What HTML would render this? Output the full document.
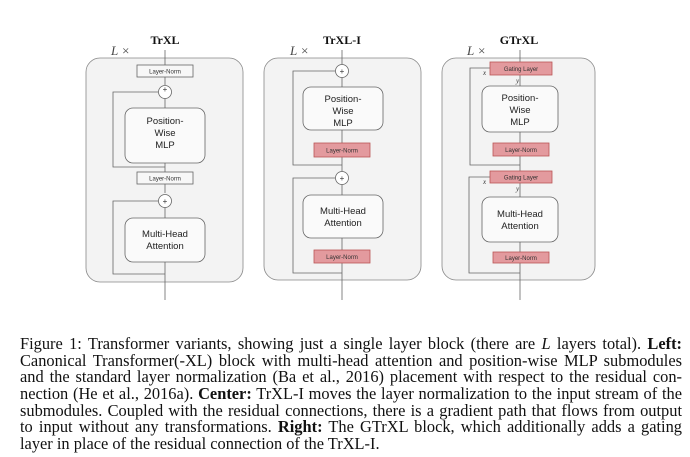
<!DOCTYPE html>
<html><head><meta charset="utf-8"><style>
body{margin:0;width:690px;height:457px;background:#fff;overflow:hidden;position:relative}
svg{position:absolute;left:0;top:0}
.cap{position:absolute;left:20px;width:662px;top:336px;font-family:"Liberation Serif",serif;font-size:16.4px;color:#111}
.cap div{height:16.7px;line-height:16.7px;text-align:justify;text-align-last:justify;white-space:nowrap}
.cap div.last{text-align-last:left}
</style></head><body>
<svg width="690" height="330" viewBox="0 0 690 330" font-family="Liberation Sans,sans-serif">
<g fill="none" stroke="#666" stroke-width="0.8">
<rect x="86" y="58" width="157" height="224" rx="14" fill="#f3f3f3" stroke="#888"/>
<rect x="264" y="58" width="157" height="222" rx="14" fill="#f3f3f3" stroke="#888"/>
<rect x="442" y="58" width="153" height="222" rx="14" fill="#f3f3f3" stroke="#888"/>
</g>
<g font-family="Liberation Serif,serif" font-weight="bold" font-size="12" text-anchor="middle" fill="#111">
<text x="165" y="44">TrXL</text><text x="342" y="44">TrXL-I</text><text x="519" y="44">GTrXL</text></g>
<g font-family="Liberation Serif,serif" font-style="italic" font-size="13" fill="#444">
<text x="111" y="55">L ×</text><text x="290" y="55">L ×</text><text x="467" y="55">L ×</text></g>

<g stroke="#666" stroke-width="0.8" fill="none">
<line x1="165" y1="300" x2="165" y2="262"/>
<polyline points="165,274 113,274 113,201 158,201"/>
<line x1="165" y1="218" x2="165" y2="207"/>
<line x1="165" y1="193" x2="165" y2="184"/>
<line x1="165" y1="172" x2="165" y2="163"/>
<polyline points="165,167 113,167 113,92 158,92"/>
<line x1="165" y1="108" x2="165" y2="98"/>
<line x1="165" y1="85" x2="165" y2="77"/>
<line x1="165" y1="65" x2="165" y2="50"/>
<circle cx="165" cy="92" r="6.5" fill="#fff"/><circle cx="165" cy="201" r="6.5" fill="#fff"/>
<rect x="137" y="65" width="56" height="12" fill="#f7f7f7"/>
<rect x="125" y="108" width="80" height="55" rx="8" fill="#fafafa"/>
<rect x="137" y="172" width="56" height="12" fill="#f7f7f7"/>
<rect x="125" y="218" width="80" height="44" rx="8" fill="#fafafa"/>
</g>
<g font-size="6" fill="#333" text-anchor="middle"><text x="165" y="73.5">Layer-Norm</text><text x="165" y="180.5">Layer-Norm</text>
<text x="165" y="92" font-size="8">+</text><text x="165" y="204" font-size="8">+</text></g>
<g font-size="9.5" fill="#222" text-anchor="middle"><text x="165" y="124">Position-</text><text x="165" y="136">Wise</text><text x="165" y="148">MLP</text>
<text x="165" y="237">Multi-Head</text><text x="165" y="249">Attention</text></g>

<g stroke="#666" stroke-width="0.8" fill="none">
<line x1="342" y1="300" x2="342" y2="263"/>
<line x1="342" y1="250" x2="342" y2="238"/>
<polyline points="342,273 293,273 293,178 335,178"/>
<line x1="342" y1="195" x2="342" y2="184"/>
<line x1="342" y1="172" x2="342" y2="157"/>
<line x1="342" y1="143" x2="342" y2="130"/>
<polyline points="342,165 293,165 293,71 335,71"/>
<line x1="342" y1="87" x2="342" y2="77"/>
<line x1="342" y1="65" x2="342" y2="50"/>
<circle cx="342" cy="71" r="6.5" fill="#fff"/><circle cx="342" cy="178" r="6.5" fill="#fff"/>
<rect x="303" y="87" width="80" height="43" rx="8" fill="#fafafa"/>
<rect x="314" y="143" width="56" height="14" fill="#e39a9e" stroke="#b55"/>
<rect x="303" y="195" width="80" height="43" rx="8" fill="#fafafa"/>
<rect x="314" y="250" width="56" height="13" fill="#e39a9e" stroke="#b55"/>
</g>
<g font-size="6" fill="#333" text-anchor="middle"><text x="342" y="152.5">Layer-Norm</text><text x="342" y="259">Layer-Norm</text>
<text x="342" y="74" font-size="8">+</text><text x="342" y="181" font-size="8">+</text></g>
<g font-size="9.5" fill="#222" text-anchor="middle"><text x="343" y="102">Position-</text><text x="343" y="114">Wise</text><text x="343" y="126">MLP</text>
<text x="343" y="214">Multi-Head</text><text x="343" y="226">Attention</text></g>

<g stroke="#666" stroke-width="0.8" fill="none">
<line x1="520" y1="300" x2="520" y2="263"/>
<line x1="520" y1="252" x2="520" y2="242"/>
<polyline points="520,273 469,273 469,177 490,177"/>
<line x1="520" y1="197" x2="520" y2="183"/>
<line x1="520" y1="171" x2="520" y2="156"/>
<line x1="520" y1="143" x2="520" y2="132"/>
<polyline points="520,165 470,165 470,68 490,68"/>
<line x1="520" y1="86" x2="520" y2="75"/>
<line x1="520" y1="62" x2="520" y2="50"/>
<rect x="490" y="62" width="62" height="13" fill="#e39a9e" stroke="#b55"/>
<rect x="482" y="86" width="76" height="46" rx="8" fill="#fafafa"/>
<rect x="493" y="143" width="56" height="13" fill="#e39a9e" stroke="#b55"/>
<rect x="490" y="171" width="62" height="12" fill="#e39a9e" stroke="#b55"/>
<rect x="482" y="197" width="76" height="45" rx="8" fill="#fafafa"/>
<rect x="493" y="252" width="56" height="11" fill="#e39a9e" stroke="#b55"/>
</g>
<g font-size="6" fill="#333" text-anchor="middle"><text x="521" y="71">Gating Layer</text><text x="521" y="152">Layer-Norm</text>
<text x="521" y="179.5">Gating Layer</text><text x="521" y="260">Layer-Norm</text></g>
<g font-family="Liberation Serif,serif" font-style="italic" font-size="7" fill="#333">
<text x="483" y="75">x</text><text x="516" y="83">y</text><text x="483" y="184">x</text><text x="516" y="191">y</text></g>
<g font-size="9.5" fill="#222" text-anchor="middle"><text x="520" y="101">Position-</text><text x="520" y="113">Wise</text><text x="520" y="125">MLP</text>
<text x="520" y="217">Multi-Head</text><text x="520" y="229">Attention</text></g>
</svg>
<div class="cap">
<div>Figure 1: Transformer variants, showing just a single layer block (there are <i>L</i> layers total). <b>Left:</b></div>
<div>Canonical Transformer(-XL) block with multi-head attention and position-wise MLP submodules</div>
<div>and the standard layer normalization (Ba et al., 2016) placement with respect to the residual con-</div>
<div>nection (He et al., 2016a). <b>Center:</b> TrXL-I moves the layer normalization to the input stream of the</div>
<div>submodules. Coupled with the residual connections, there is a gradient path that flows from output</div>
<div>to input without any transformations. <b>Right:</b> The GTrXL block, which additionally adds a gating</div>
<div class="last">layer in place of the residual connection of the TrXL-I.</div>
</div>
</body></html>
